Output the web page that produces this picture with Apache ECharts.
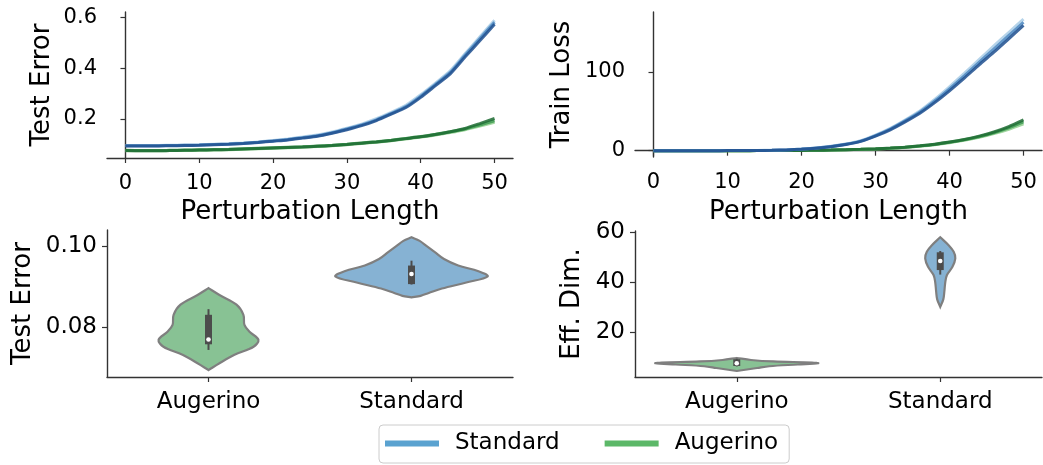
<!DOCTYPE html>
<html>
<head>
<meta charset="utf-8">
<script src="https://cdn.jsdelivr.net/npm/echarts@6/dist/echarts.min.js"></script>
<style>html,body{margin:0;padding:0;background:#fff;}#c{width:1043px;height:465px;}</style>
</head>
<body>
<div id="c"></div>
<script>
// ---------- data ----------
const xs = [0,2,4,6,8,10,12,14,16,18,20,22,24,26,28,30,32,34,36,38,40,42,44,46,48,50];

// Test error vs perturbation length (3 seeds per model)
const teStd1 = [0.094,0.094,0.094,0.095,0.096,0.097,0.099,0.101,0.104,0.108,0.113,0.118,0.125,0.132,0.144,0.158,0.174,0.194,0.219,0.245,0.285,0.331,0.377,0.443,0.507,0.572];
const teStd2 = [0.095,0.095,0.095,0.096,0.097,0.098,0.100,0.102,0.105,0.109,0.114,0.120,0.127,0.134,0.146,0.161,0.177,0.197,0.222,0.249,0.290,0.336,0.383,0.450,0.515,0.580];
const teStd3 = [0.096,0.096,0.096,0.097,0.098,0.099,0.101,0.103,0.106,0.110,0.116,0.122,0.129,0.137,0.149,0.164,0.180,0.201,0.226,0.254,0.295,0.341,0.389,0.456,0.522,0.588];
const teAug1 = [0.076,0.075,0.075,0.076,0.077,0.078,0.079,0.080,0.082,0.084,0.086,0.088,0.090,0.093,0.096,0.100,0.105,0.110,0.116,0.123,0.130,0.139,0.150,0.163,0.182,0.202];
const teAug2 = [0.077,0.076,0.076,0.077,0.078,0.079,0.080,0.081,0.083,0.085,0.087,0.089,0.091,0.094,0.097,0.101,0.106,0.111,0.117,0.124,0.131,0.140,0.150,0.161,0.176,0.193];
const teAug3 = [0.075,0.075,0.075,0.076,0.076,0.077,0.078,0.079,0.081,0.083,0.085,0.087,0.090,0.092,0.095,0.099,0.104,0.109,0.115,0.122,0.129,0.137,0.147,0.158,0.172,0.187];

// Train loss vs perturbation length
const tlStd1 = [0,0,0,0,0.05,0.1,0.15,0.25,0.5,1.0,1.9,3.2,5.1,7.8,11.8,18.5,26.5,36.5,47.5,61,76,92,109,125,142,159];
const tlStd2 = [0,0,0,0,0.05,0.1,0.15,0.25,0.5,1.0,2.0,3.3,5.3,8.1,12.2,19.2,27.5,37.8,49,63,78.5,95,112,129,146,163];
const tlStd3 = [0,0,0,0,0.05,0.1,0.15,0.3,0.55,1.1,2.1,3.5,5.5,8.4,12.7,19.8,28.3,39,50.5,65,81,98,115.5,133,150,167];
const tlAug1 = [0,0,0,0,0,0,0.05,0.1,0.15,0.25,0.35,0.55,0.85,1.25,1.75,2.4,3.3,4.5,6.2,8.3,11,14.3,18.5,23.7,30.5,39];
const tlAug2 = [0,0,0,0,0,0,0.05,0.1,0.15,0.25,0.35,0.55,0.85,1.2,1.7,2.3,3.2,4.3,6.0,8.0,10.6,13.8,17.8,22.8,29,36.5];
const tlAug3 = [0,0,0,0,0,0,0.05,0.1,0.15,0.2,0.3,0.5,0.8,1.15,1.6,2.2,3.0,4.1,5.7,7.6,10.1,13.1,16.9,21.6,27.2,34];

// Violin categories
const cats = ['Augerino', 'Standard'];

// Violin outlines: y values and half widths (fraction of category band)
const teAugY = [0.0693,0.0710,0.0731,0.0751,0.0768,0.0788,0.0805,0.0830,0.0855,0.0879,0.0896];
const teAugW = [0,0.054,0.128,0.222,0.246,0.202,0.177,0.172,0.138,0.054,0];
const teStdY = [0.0873,0.0877,0.0884,0.0895,0.0910,0.0925,0.0938,0.0952,0.0968,0.0985,0.1000,0.1013,0.1022];
const teStdW = [0,0.045,0.085,0.150,0.270,0.375,0.330,0.230,0.160,0.115,0.075,0.040,0];
const teLo  = [0.0743, 0.0905];
const teQ1  = [0.0757, 0.0906];
const teMed = [0.0769, 0.0931];
const teQ3  = [0.0830, 0.0952];
const teHi  = [0.0844, 0.0964];

const edAugY = [4.4,5.0,5.6,6.3,7.0,7.5,7.8,8.2,8.8,9.6];
const edAugW = [0,0.05,0.10,0.16,0.30,0.40,0.37,0.18,0.07,0];
const edStdY = [30.0,33,36,40,42.7,46,49.4,52,54.7,57.8];
const edStdW = [0,0.015,0.02,0.025,0.033,0.06,0.074,0.066,0.04,0];
const edLo  = [6.2, 42.9];
const edQ1  = [6.4, 44.7];
const edMed = [7.5, 48.3];
const edQ3  = [9.1, 51.8];
const edHi  = [9.3, 52.3];

// tick labels
const xTicks = [0,10,20,30,40,50];
const teTicks = [0.2,0.4,0.6];
const tlTicks = [0,100];
const vteTicks = [0.08,0.10];
const vedTicks = [20,40,60];

// ---------- style ----------
const FONT = 'DejaVu Sans';
const AX = '#333333';
const blueShades = ['#a9cce6', '#4a86c0', '#1f4f8e'];
const greenShades = ['#90cf8e', '#3f9c52', '#1d6b32'];
const violinFill = ['#88c294', '#86b2d3'];

function pairs(y) { return xs.map((x, i) => [x, y[i]]); }

function valAxis(gi, min, max, ticks, fmt, fs, name, gap, margin) {
  return {
    type: 'value', gridIndex: gi, min: min, max: max,
    name: name, nameLocation: 'middle', nameGap: gap,
    nameTextStyle: { fontFamily: FONT, fontSize: 26, color: '#000' },
    axisLine: { show: true, lineStyle: { color: AX, width: 1.4 } },
    axisTick: { show: true, length: 5, lineStyle: { color: AX, width: 1.2 }, customValues: ticks },
    axisLabel: { fontFamily: FONT, fontSize: fs, color: '#000', margin: margin, customValues: ticks, formatter: fmt },
    splitLine: { show: false }
  };
}

function catAxis(gi) {
  return {
    type: 'category', gridIndex: gi, data: cats, boundaryGap: true,
    axisLine: { show: true, lineStyle: { color: AX, width: 1.4 } },
    axisTick: { show: true, alignWithLabel: true, length: 5, lineStyle: { color: AX, width: 1.2 } },
    axisLabel: { fontFamily: FONT, fontSize: 23, color: '#000', margin: 14 },
    splitLine: { show: false }
  };
}

function lineSeries(name, xi, data, color, z) {
  return {
    type: 'line', name: name, xAxisIndex: xi, yAxisIndex: xi, data: pairs(data),
    showSymbol: false, symbol: 'none', smooth: 0.2,
    lineStyle: { color: color, width: 3, opacity: 0.85 }, itemStyle: { color: color },
    z: z, silent: true
  };
}

function violinSeries(ai, Ys, Ws, lo, q1, med, q3, hi) {
  return {
    type: 'custom', xAxisIndex: ai, yAxisIndex: ai,
    data: cats.map((c, i) => [i, med[i]]),
    encode: { x: 0, y: 1 },
    silent: true,
    renderItem: function (params, api) {
      const i = api.value(0);
      const band = api.size([1, 0])[0];
      const cx = api.coord([i, med[i]])[0];
      const Y = Ys[i], W = Ws[i];
      const pts = [];
      for (let k = 0; k < Y.length; k++) pts.push([cx + W[k] * band, api.coord([i, Y[k]])[1]]);
      for (let k = Y.length - 1; k >= 0; k--) pts.push([cx - W[k] * band, api.coord([i, Y[k]])[1]]);
      const yLo = api.coord([i, lo[i]])[1], yHi = api.coord([i, hi[i]])[1];
      const yQ1 = api.coord([i, q1[i]])[1], yQ3 = api.coord([i, q3[i]])[1];
      const yM = api.coord([i, med[i]])[1];
      return {
        type: 'group',
        children: [
          { type: 'polygon', shape: { points: pts, smooth: 0.35 },
            style: { fill: violinFill[i], stroke: '#7f7f7f', lineWidth: 2.2 } },
          { type: 'line', shape: { x1: cx, y1: yLo, x2: cx, y2: yHi },
            style: { stroke: '#4c4c4c', lineWidth: 2 } },
          { type: 'rect', shape: { x: cx - 3.5, y: yQ3, width: 7, height: yQ1 - yQ3 },
            style: { fill: '#4c4c4c' } },
          { type: 'circle', shape: { cx: cx, cy: yM, r: 2.3 }, style: { fill: '#ffffff' } }
        ]
      };
    }
  };
}

const chart = echarts.init(document.getElementById('c'), null, { renderer: 'canvas' });
chart.setOption({
  animation: false,
  backgroundColor: '#ffffff',
  grid: [
    { left: 107, top: 12, width: 406, height: 146 },
    { left: 635, top: 12, width: 407, height: 145 },
    { left: 107, top: 230, width: 406, height: 147 },
    { left: 635, top: 231, width: 407, height: 146 }
  ],
  xAxis: [
    valAxis(0, -2.5, 52.5, xTicks, v => String(v), 21, 'Perturbation Length', 41, 15),
    valAxis(1, -2.5, 52.5, xTicks, v => String(v), 21, 'Perturbation Length', 42, 15),
    catAxis(2),
    catAxis(3)
  ],
  yAxis: [
    valAxis(0, 0.047, 0.62, teTicks, v => v.toFixed(1), 21, 'Test Error', 52, 10),
    valAxis(1, -8.0, 176.0, tlTicks, v => String(Math.round(v)), 21, 'Train Loss', 60, 10),
    valAxis(2, 0.0676, 0.104, vteTicks, v => v.toFixed(2), 23, 'Test Error', 71, 10),
    valAxis(3, 2, 60.3, vedTicks, v => String(Math.round(v)), 23, 'Eff. Dim.', 50, 10)
  ],
  legend: {
    left: 379, top: 425,
    orient: 'horizontal',
    icon: 'rect', itemWidth: 54, itemHeight: 6, itemGap: 45,
    padding: [7, 11, 8, 6],
    borderColor: '#cccccc', borderWidth: 1, borderRadius: 4, backgroundColor: '#ffffff',
    textStyle: { fontFamily: FONT, fontSize: 23, color: '#000', padding: [0, 0, 0, 11] },
    data: [
      { name: 'Standard', itemStyle: { color: '#5aa2d0' } },
      { name: 'Augerino', itemStyle: { color: '#5cb868' } }
    ]
  },
  series: [
    lineSeries('Augerino', 0, teAug3, greenShades[0], 2),
    lineSeries('Augerino', 0, teAug2, greenShades[1], 3),
    lineSeries('Augerino', 0, teAug1, greenShades[2], 4),
    lineSeries('Standard', 0, teStd3, blueShades[0], 5),
    lineSeries('Standard', 0, teStd2, blueShades[1], 6),
    lineSeries('Standard', 0, teStd1, blueShades[2], 7),
    lineSeries('Augerino', 1, tlAug3, greenShades[0], 2),
    lineSeries('Augerino', 1, tlAug2, greenShades[1], 3),
    lineSeries('Augerino', 1, tlAug1, greenShades[2], 4),
    lineSeries('Standard', 1, tlStd3, blueShades[0], 5),
    lineSeries('Standard', 1, tlStd2, blueShades[1], 6),
    lineSeries('Standard', 1, tlStd1, blueShades[2], 7),
    violinSeries(2, [teAugY, teStdY], [teAugW, teStdW], teLo, teQ1, teMed, teQ3, teHi),
    violinSeries(3, [edAugY, edStdY], [edAugW, edStdW], edLo, edQ1, edMed, edQ3, edHi)
  ]
});
</script>
</body>
</html>
